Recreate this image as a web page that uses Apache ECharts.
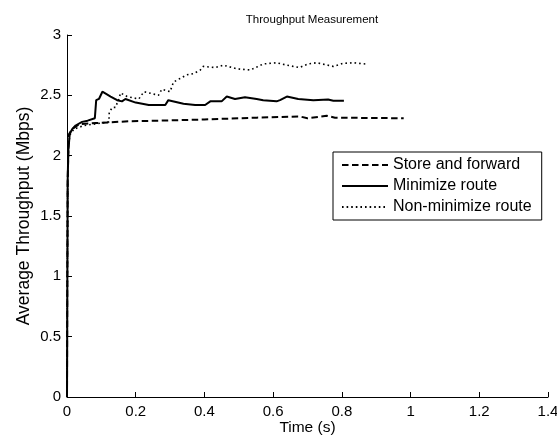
<!DOCTYPE html>
<html>
<head>
<meta charset="utf-8">
<script src="https://cdn.jsdelivr.net/npm/echarts@6/dist/echarts.min.js"></script>
<style>
  html, body { margin: 0; padding: 0; background: #fff; }
  #chart { width: 557px; height: 441px; }
</style>
</head>
<body>
<div id="chart"></div>
<script>
// [time (s), average throughput (Mbps)]
var storeForward = [
  [0, 0], [0.001, 1.0], [0.002, 1.8], [0.004, 2.05], [0.006, 2.18], [0.015, 2.22],
  [0.035, 2.26], [0.083, 2.27], [0.18, 2.285], [0.267, 2.29], [0.4, 2.3],
  [0.552, 2.315], [0.678, 2.325], [0.7, 2.31], [0.756, 2.33], [0.78, 2.315], [0.98, 2.31]
];
var minimizeRoute = [
  [0, 0], [0.001, 1.0], [0.002, 1.8], [0.004, 2.05], [0.008, 2.18], [0.015, 2.22],
  [0.025, 2.25], [0.044, 2.28], [0.06, 2.29], [0.081, 2.31], [0.085, 2.46], [0.093, 2.47],
  [0.103, 2.53], [0.115, 2.51], [0.127, 2.49], [0.146, 2.46], [0.16, 2.45], [0.17, 2.47],
  [0.2, 2.44], [0.238, 2.42], [0.262, 2.42], [0.286, 2.42], [0.295, 2.46], [0.339, 2.43],
  [0.373, 2.42], [0.402, 2.42], [0.417, 2.45], [0.45, 2.45], [0.465, 2.49], [0.489, 2.47],
  [0.518, 2.485], [0.552, 2.47], [0.571, 2.46], [0.61, 2.45], [0.62, 2.46], [0.64, 2.49],
  [0.673, 2.47], [0.717, 2.46], [0.76, 2.465], [0.775, 2.455], [0.806, 2.455]
];
var nonMinimizeRoute = [
  [0, 0], [0.001, 1.0], [0.002, 1.8], [0.004, 2.05], [0.008, 2.17], [0.02, 2.22],
  [0.05, 2.25], [0.1, 2.27], [0.122, 2.28], [0.123, 2.36], [0.132, 2.4], [0.141, 2.4],
  [0.151, 2.47], [0.156, 2.52], [0.175, 2.49], [0.209, 2.47], [0.224, 2.53], [0.253, 2.51],
  [0.266, 2.5], [0.276, 2.55], [0.3, 2.53], [0.31, 2.61], [0.329, 2.64], [0.349, 2.67],
  [0.368, 2.68], [0.388, 2.71], [0.397, 2.74], [0.431, 2.73], [0.455, 2.75], [0.494, 2.72],
  [0.533, 2.71], [0.557, 2.74], [0.571, 2.76], [0.61, 2.77], [0.64, 2.75], [0.676, 2.73],
  [0.702, 2.76], [0.727, 2.77], [0.775, 2.74], [0.804, 2.765], [0.833, 2.77], [0.869, 2.76]
];
var seriesNames = ['Store and forward', 'Minimize route', 'Non-minimize route'];

var font = 'Liberation Sans, Arial, Helvetica, sans-serif';
var myChart = echarts.init(document.getElementById('chart'));

var axisCommon = {
  axisLine: { show: true, lineStyle: { color: '#000', width: 1 } },
  axisTick: { show: true, inside: true, length: 5, lineStyle: { color: '#000' } },
  splitLine: { show: false },
  nameMoveOverlap: false
};

var option = {
  animation: false,
  backgroundColor: '#fff',
  title: {
    text: 'Throughput Measurement',
    left: 307,
    textAlign: 'center',
    top: 9,
    textStyle: { fontSize: 11.5, fontWeight: 'normal', color: '#000', fontFamily: font }
  },
  grid: { left: 67, right: 9, top: 35, bottom: 44, containLabel: false, outerBoundsMode: 'none' },
  legend: {
    orient: 'vertical',
    left: 333,
    top: 152,
    data: seriesNames,
    borderColor: '#000',
    borderWidth: 1,
    borderRadius: 0,
    padding: [5, 10, 5, 8],
    itemGap: 5,
    itemWidth: 46,
    itemHeight: 14,
    itemStyle: { color: 'rgba(0,0,0,0)', borderWidth: 0, opacity: 0 },
    textStyle: { color: '#000', fontSize: 16, fontFamily: font }
  },
  xAxis: echarts.util.merge({
    type: 'value',
    min: 0,
    max: 1.4,
    interval: 0.2,
    name: 'Time (s)',
    nameLocation: 'middle',
    nameGap: 23,
    axisLabel: { color: '#000', fontSize: 15, fontFamily: font, margin: 7 },
    nameTextStyle: { color: '#000', fontSize: 15.5, fontFamily: font }
  }, axisCommon, true),
  yAxis: echarts.util.merge({
    type: 'value',
    min: 0,
    max: 3,
    interval: 0.5,
    name: 'Average Throughput (Mbps)',
    nameLocation: 'middle',
    nameGap: 34,
    axisLabel: { color: '#000', fontSize: 15, fontFamily: font, margin: 6 },
    nameTextStyle: { color: '#000', fontSize: 17.5, fontFamily: font }
  }, axisCommon, true),
  series: [
    {
      name: seriesNames[0], type: 'line', data: storeForward,
      symbol: 'none', showSymbol: false,
      lineStyle: { color: '#000', width: 2, type: [6.5, 3.5] },
      itemStyle: { color: '#000' }
    },
    {
      name: seriesNames[1], type: 'line', data: minimizeRoute,
      symbol: 'none', showSymbol: false,
      lineStyle: { color: '#000', width: 2, type: 'solid' },
      itemStyle: { color: '#000' }
    },
    {
      name: seriesNames[2], type: 'line', data: nonMinimizeRoute,
      symbol: 'none', showSymbol: false,
      lineStyle: { color: '#000', width: 1.6, type: [1.6, 3] },
      itemStyle: { color: '#000' }
    }
  ]
};
myChart.setOption(option);
</script>
</body>
</html>
